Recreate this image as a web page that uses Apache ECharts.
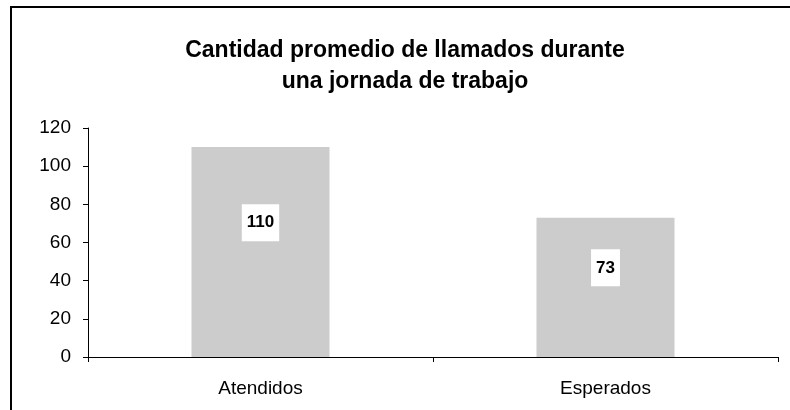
<!DOCTYPE html>
<html>
<head>
<meta charset="utf-8">
<script src="https://cdn.jsdelivr.net/npm/echarts@6/dist/echarts.min.js"></script>
<style>
  html, body { margin: 0; padding: 0; background: #ffffff; }
  #chart { width: 790px; height: 410px; }
</style>
</head>
<body>
<div id="chart"></div>
<script>
// datos del grafico
var categories = ['Atendidos', 'Esperados'];
var llamados = [110, 73];
var yTicks = [0, 20, 40, 60, 80, 100, 120];

var chart = echarts.init(document.getElementById('chart'), null, { renderer: 'canvas' });

var option = {
  backgroundColor: '#ffffff',
  animation: false,
  textStyle: { fontFamily: 'Liberation Sans, Arial, sans-serif' },
  title: {
    text: 'Cantidad promedio de llamados durante\nuna jornada de trabajo',
    left: 400,
    top: 30,
    textAlign: 'center',
    textStyle: {
      fontSize: 23,
      fontWeight: 'bold',
      color: '#000000',
      lineHeight: 31,
      fontFamily: 'Liberation Sans, Arial, sans-serif'
    }
  },
  graphic: [{
    type: 'rect',
    shape: { x: 11, y: 7, width: 900, height: 600 },
    style: { fill: 'none', stroke: '#000000', lineWidth: 2 },
    silent: true
  }],
  grid: { left: 88, right: 12, top: 128, bottom: 53 },
  xAxis: {
    type: 'category',
    data: categories,
    axisLine: { lineStyle: { color: '#000000', width: 1 } },
    axisTick: { show: true, length: 5, lineStyle: { color: '#000000' } },
    axisLabel: { color: '#000000', fontSize: 19, margin: 22 }
  },
  yAxis: {
    type: 'value',
    min: yTicks[0],
    max: yTicks[yTicks.length - 1],
    interval: yTicks[1] - yTicks[0],
    axisLine: { show: true, lineStyle: { color: '#000000', width: 1 } },
    axisTick: { show: true, length: 5, lineStyle: { color: '#000000' } },
    splitLine: { show: false },
    axisLabel: { color: '#000000', fontSize: 19, margin: 17 }
  },
  series: [{
    type: 'bar',
    data: llamados,
    barWidth: '40%',
    itemStyle: { color: '#cccccc' },
    label: {
      show: true,
      position: ['50%', '36%'],
      align: 'center',
      verticalAlign: 'middle',
      color: '#000000',
      fontSize: 17,
      fontWeight: 'bold',
      backgroundColor: '#ffffff',
      padding: [10, 5, 10, 5]
    }
  }]
};

chart.setOption(option);
</script>
</body>
</html>
